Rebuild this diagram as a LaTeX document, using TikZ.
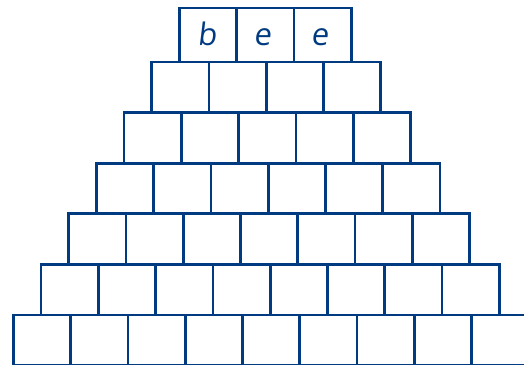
\documentclass[tikz,border=0pt]{standalone}
\usepackage{fontspec}
\newfontfamily\handfont[FakeSlant=0.12]{Open Sans}
\usetikzlibrary{positioning}
\definecolor{brickblue}{RGB}{0,58,128}

\begin{document}
\begin{tikzpicture}[
    x=1pt, y=-1pt,
    brick/.style={rectangle, draw=brickblue, line width=2.7pt, inner sep=0pt, outer sep=0pt,
                  minimum width=57.3pt, minimum height=50.6pt, anchor=north west},
    toprow/.style={brick, minimum height=54pt},
    letter/.style={font=\handfont\fontsize{31}{31}\selectfont, text=brickblue, anchor=base},
]
\useasboundingbox (0,0) rectangle (524,364);
\clip (0,0) rectangle (524,364);

% top row with the word
\node[toprow] (b1-1) at (179.3,8) {};
\node[toprow, right=0pt of b1-1.north east, anchor=north west] (b1-2) {};
\node[toprow, right=0pt of b1-2.north east, anchor=north west] (b1-3) {};
\node[letter] (lb) at ([xshift=-1pt, yshift=-10pt]b1-1.center) {b};
\node[letter] (le1) at ([xshift=-3pt, yshift=-10pt]b1-2.center) {e};
\node[letter] (le2) at ([xshift=-3pt, yshift=-10pt]b1-3.center) {e};

% the empty rows below, each one brick wider
\foreach \r in {2,...,7} {
  \pgfmathtruncatemacro{\n}{\r+2}
  \foreach \c in {1,...,\n} {
    \node[brick] (b\r-\c) at ({179.3-27.67*(\r-1)+57.3*(\c-1)}, {62+50.6*(\r-2)}) {};
  }
}
\end{tikzpicture}
\end{document}
